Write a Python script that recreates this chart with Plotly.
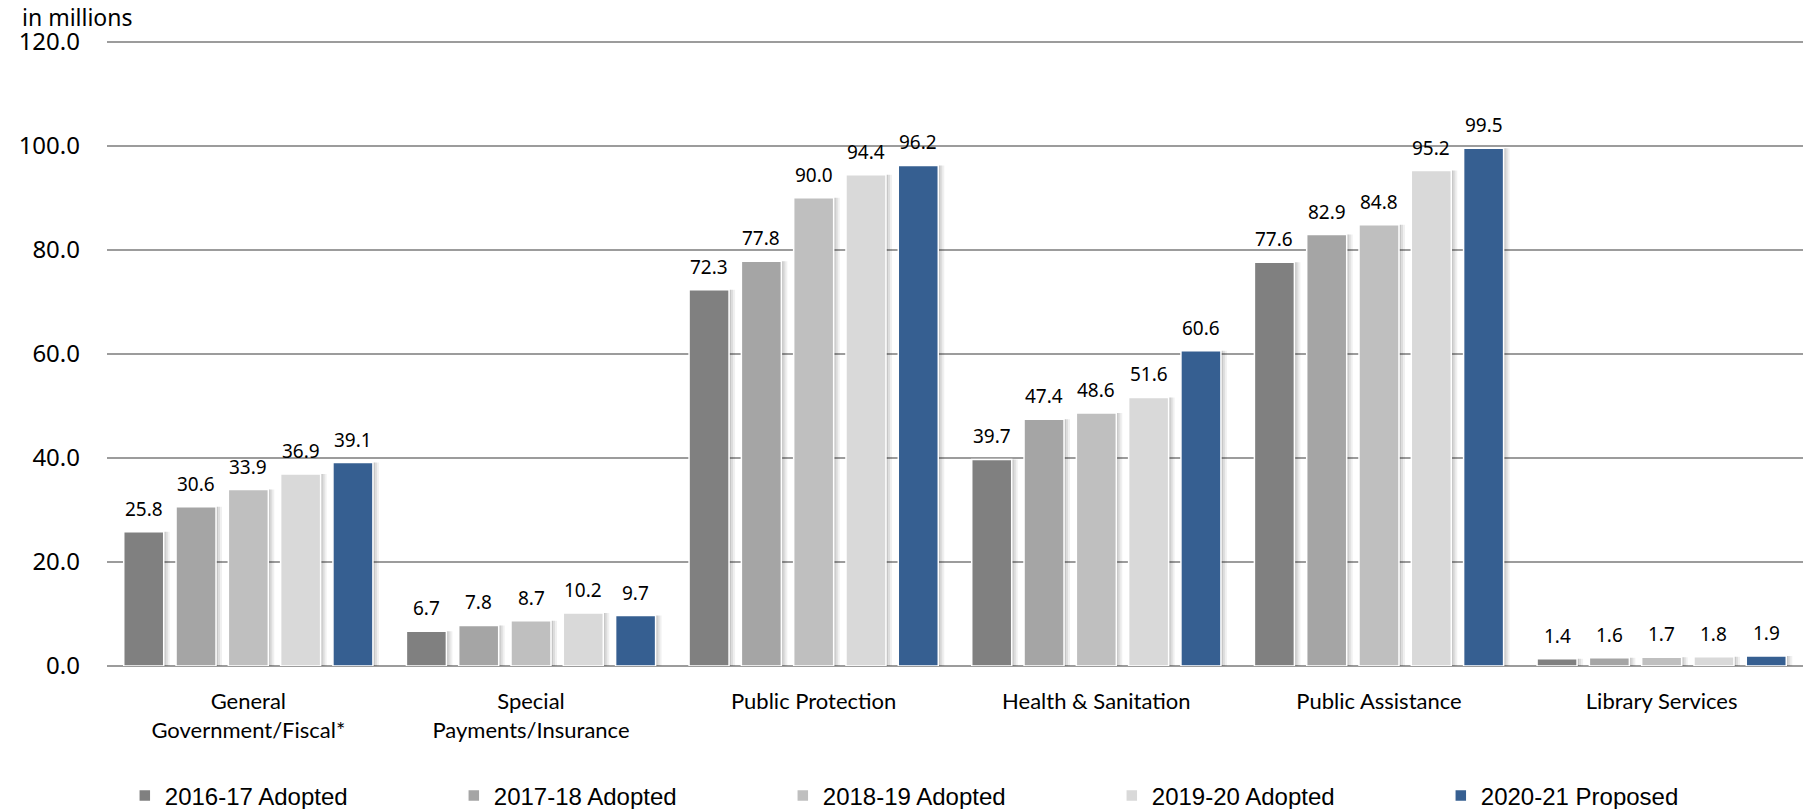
import plotly.graph_objects as go

categories = [
    "General<br>Government/Fiscal*",
    "Special<br>Payments/Insurance",
    "Public Protection",
    "Health & Sanitation",
    "Public Assistance",
    "Library Services",
]
series_names = [
    "2016-17 Adopted",
    "2017-18 Adopted",
    "2018-19 Adopted",
    "2019-20 Adopted",
    "2020-21 Proposed",
]
adopted_2016_17 = [25.8, 6.7, 72.3, 39.7, 77.6, 1.4]
adopted_2017_18 = [30.6, 7.8, 77.8, 47.4, 82.9, 1.6]
adopted_2018_19 = [33.9, 8.7, 90.0, 48.6, 84.8, 1.7]
adopted_2019_20 = [36.9, 10.2, 94.4, 51.6, 95.2, 1.8]
proposed_2020_21 = [39.1, 9.7, 96.2, 60.6, 99.5, 1.9]
y_ticks = [0, 20, 40, 60, 80, 100, 120]

series_values = [adopted_2016_17, adopted_2017_18, adopted_2018_19,
                 adopted_2019_20, proposed_2020_21]
colors = ["#808080", "#A5A5A5", "#BFBFBF", "#D9D9D9", "#365F91"]

W, H = 1808, 809
ML, MR, MT, MB = 107, 5, 40, 143
plot_w = W - ML - MR
plot_h = H - MT - MB
px_x = len(categories) / plot_w          # x data units per pixel
y_top = 120.3                            # a little headroom so the 120 gridline shows

bar_w = 40 * px_x
pitch = 52.3 * px_x
x_idx = list(range(len(categories)))

fig = go.Figure()

# soft drop shadow behind each bar
for i, vals in enumerate(series_values):
    center = (i - 2) * pitch
    for dx, alpha in [(2, 0.10), (4, 0.08), (6, 0.06)]:
        fig.add_trace(go.Bar(
            x=x_idx, y=vals,
            width=bar_w, offset=center - bar_w / 2 + dx * px_x,
            marker=dict(color=f"rgba(0,0,0,{alpha})", line=dict(width=0)),
            showlegend=False, hoverinfo="skip",
        ))

for i, (name, vals) in enumerate(zip(series_names, series_values)):
    center = (i - 2) * pitch
    fig.add_trace(go.Bar(
        x=x_idx, y=vals, name=name,
        width=bar_w, offset=center - bar_w / 2,
        marker=dict(color=colors[i], line=dict(color="white", width=1.5)),
    ))
    for xi, v in zip(x_idx, vals):
        fig.add_annotation(
            x=xi + center, y=v, text=f"{v:.1f}", showarrow=False,
            yanchor="middle", yshift=23,
            font=dict(family="Noto Sans", size=19, color="#000000"),
        )

fig.add_annotation(
    xref="paper", yref="paper", x=(21 - ML) / plot_w, y=(H - MB - 17) / plot_h,
    xanchor="left", yanchor="middle", text="in millions", showarrow=False,
    borderpad=0,
    font=dict(family="Noto Sans", size=23, color="#000000"),
)

fig.update_layout(
    width=W, height=H,
    margin=dict(l=ML, r=MR, t=MT, b=MB, pad=0, autoexpand=False),
    barmode="overlay",
    plot_bgcolor="white", paper_bgcolor="white",
    xaxis=dict(
        range=[-0.5, len(categories) - 0.5],
        tickmode="array", tickvals=x_idx, ticktext=categories,
        showgrid=False, zeroline=False, showline=False, ticks="",
        ticklabelstandoff=20, automargin=False,
        tickfont=dict(family="Lato", size=22, color="#000000"),
    ),
    yaxis=dict(
        range=[0, y_top], tickmode="array", tickvals=y_ticks,
        ticktext=[f"{t:.1f}" for t in y_ticks],
        showgrid=True, gridcolor="#9C9C9C", gridwidth=2,
        zeroline=True, zerolinecolor="#9C9C9C", zerolinewidth=2,
        showline=False, ticks="", ticklabelstandoff=26, automargin=False,
        tickfont=dict(family="Noto Sans", size=24, color="#000000"),
    ),
    legend=dict(
        orientation="h", x=0.0105, xanchor="left",
        y=-(796 - (H - MB)) / plot_h, yanchor="middle",
        entrywidth=284, entrywidthmode="pixels",
        font=dict(family="Liberation Sans", size=24, color="#000000"),
        bgcolor="rgba(0,0,0,0)",
    ),
)

fig.write_html("out.html")
